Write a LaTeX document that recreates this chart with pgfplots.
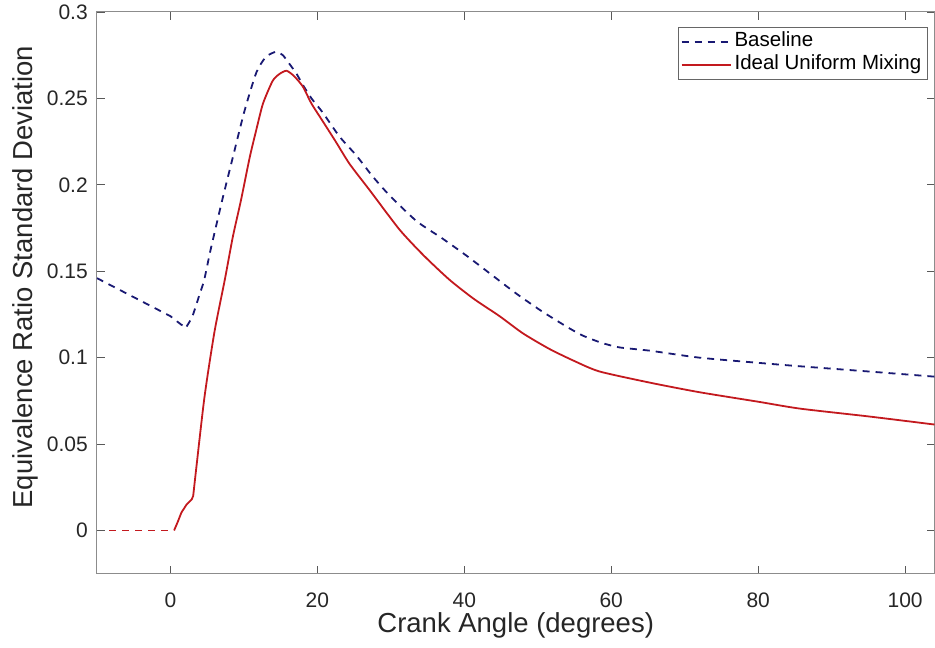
\documentclass[border=0pt]{standalone}
\usepackage{pgfplots}
\pgfplotsset{compat=1.18}
\usepackage{fontspec}
\setmainfont{Liberation Sans}
\definecolor{baseblue}{RGB}{25,25,115}
\definecolor{idealred}{RGB}{195,25,30}
\definecolor{axgray}{RGB}{140,140,140}
\definecolor{txt}{RGB}{38,38,38}
\begin{document}
\begin{tikzpicture}
\begin{axis}[
  scale only axis, width=838pt, height=562pt,
  xmin=-10, xmax=104, ymin=-0.025, ymax=0.3,
  xtick={0,20,40,60,80,100},
  ytick={0,0.05,0.1,0.15,0.2,0.25,0.3},
  yticklabels={0,0.05,0.1,0.15,0.2,0.25,0.3},
  /pgf/number format/assume math mode=true,
  tick align=inside, major tick length=8pt,
  axis line style={axgray, line width=1pt},
  tick style={black!65, line width=0.8pt},
  ticklabel style={font=\fontsize{21}{24}\selectfont, text=txt, inner sep=0pt},
  xticklabel style={anchor=north, yshift=-19pt},
  yticklabel style={anchor=east, xshift=-9pt},
  xlabel={Crank Angle (degrees)},
  ylabel={Equivalence Ratio Standard Deviation},
  label style={font=\fontsize{27.5}{30}\selectfont, text=txt, inner sep=0pt},
  xlabel style={at={(axis description cs:0.5,-0.10498)}, anchor=base},
  ylabel style={at={(axis description cs:-0.07637,0.528)}, anchor=base, rotate=0},
  legend style={at={(rel axis cs:1,1)}, anchor=north east, xshift=-7pt, yshift=-15pt,
    draw=black!60, fill=white, font=\fontsize{20.5}{23}\selectfont, text=black,
    inner xsep=3pt, inner ysep=3pt, row sep=0pt,
    nodes={inner xsep=3pt, inner ysep=1.5pt, text height=15pt, text depth=5pt}},
  legend cell align=left,
  legend image code/.code={\draw[#1] (0pt,0pt) -- (49pt,0pt);},
]
\coordinate (bbsw) at (axis description cs:-0.11575,-0.13167);
\coordinate (bbne) at (axis description cs:1,1.02135);
\addplot[baseblue, line width=1.8pt, dash pattern=on 7pt off 6pt, smooth, tension=0.4] coordinates {
(2.2,0.118) (3,0.124) (4,0.137)
(4.6,0.145) (5.5,0.163) (7.1,0.192) (8.5,0.216) (10.1,0.243) (11.7,0.265)
(13.0,0.274) (14.4,0.277) (15.3,0.275) (16.2,0.270) (17.2,0.264) (18,0.258)
(19.2,0.250) (20.7,0.242) (23,0.228) (25.3,0.217) (27.5,0.205) (29.8,0.194)
(33.5,0.179) (37,0.169) (40.3,0.159) (43.7,0.148) (47.1,0.137) (50.5,0.127)
(53.9,0.118) (56,0.113) (58.4,0.109) (61,0.106) (65.3,0.104) (72,0.100)
(80,0.097) (85.7,0.095) (95,0.092) (104,0.089)
};
\addlegendentry{Baseline}
\addplot[idealred, line width=1.8pt, smooth, tension=0.4] coordinates {
(3.1,0.020) (4.6,0.076)
(6.0,0.115) (7.4,0.145) (8.5,0.170) (9.6,0.191) (10.8,0.216) (11.7,0.232)
(12.6,0.247) (13.9,0.260) (14.8,0.264) (15.8,0.266) (16.8,0.263) (18,0.257)
(19.2,0.247) (20.7,0.237) (22.5,0.225) (24.4,0.212) (27.1,0.197) (31.2,0.174)
(34.5,0.159) (38,0.145) (41.3,0.134) (44.8,0.124) (48,0.114) (51.6,0.105)
(55,0.098) (58.4,0.092) (65.3,0.0855) (72,0.080) (80,0.0745) (85.7,0.0705)
(95,0.066) (104,0.0613)
};
\addlegendentry{Ideal Uniform Mixing}
\addplot[baseblue, line width=1.8pt, dash pattern=on 7pt off 6pt, forget plot] coordinates {
(-10,0.146) (-5,0.135) (0,0.124) (1.5,0.119) (2.2,0.118)
};
\addplot[idealred, line width=1.8pt, forget plot] coordinates {
(0.5,0) (1,0.005) (1.5,0.0104) (2.2,0.015) (2.9,0.018) (3.1,0.020)
};
\addplot[idealred, line width=1.8pt, dash pattern=on 7pt off 6pt, forget plot] coordinates {
(-8.3,0) (0.5,0)
};
\end{axis}
\path (bbsw) rectangle (bbne);
\end{tikzpicture}
\end{document}
